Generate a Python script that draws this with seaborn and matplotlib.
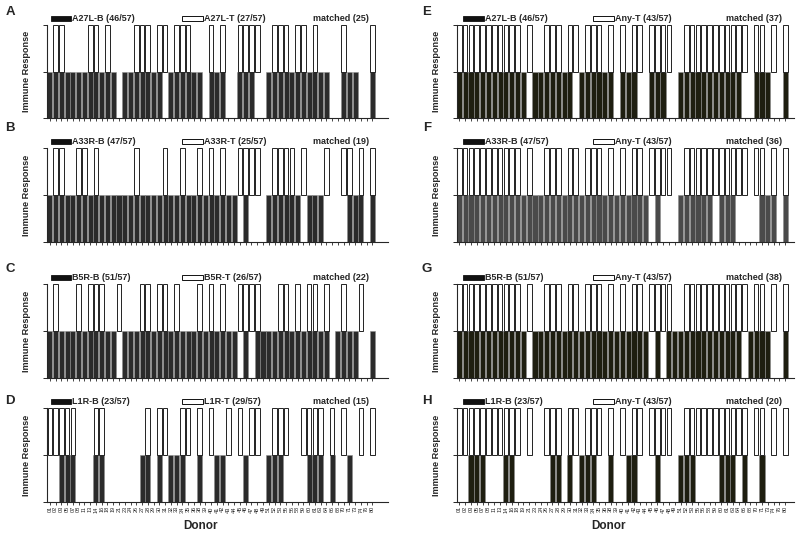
import matplotlib
matplotlib.use("Agg")
import matplotlib.pyplot as plt
from matplotlib.patches import Rectangle
import pandas as pd
import seaborn as sns

# donor ids on the x axis
donors = ["01", "02", "03", "05", "07", "08", "11", "13", "14", "16", "18", "19",
          "21", "23", "24", "26", "27", "28", "29", "30", "31", "32", "33", "34",
          "35", "36", "38", "39", "40", "41", "42", "43", "44", "45", "46", "47",
          "48", "49", "51", "52", "53", "55", "56", "58", "59", "60", "61", "63",
          "64", "66", "68", "70", "71", "73", "74", "76", "80"]

# responders, given as 1-based donor positions
a27l_b = list(range(1, 13)) + list(range(14, 21)) + list(range(22, 28)) + [29, 30, 31, 34, 35, 36] \
    + list(range(39, 50)) + [52, 53, 54, 57]
a27l_t = [2, 3, 8, 9, 11, 16, 17, 18, 20, 21, 23, 24, 25, 29, 31, 34, 35, 36, 37, 40, 41, 42,
          44, 45, 47, 52, 57]
a33r_b = list(range(1, 34)) + [35] + list(range(39, 45)) + [46, 47, 48, 53, 54, 55, 57]
a33r_t = [2, 3, 6, 7, 9, 16, 21, 24, 27, 29, 31, 34, 35, 36, 37, 40, 41, 42, 43, 45, 49, 52,
          53, 55, 57]
b5r_b = list(range(1, 13)) + list(range(14, 34)) + [35] + list(range(37, 50)) + [51, 52, 53, 54, 57]
b5r_t = [2, 6, 8, 9, 10, 13, 17, 18, 20, 21, 23, 27, 29, 31, 34, 35, 36, 37, 41, 42, 44, 46,
         47, 49, 52, 55]
l1r_b = [3, 4, 5, 9, 10, 17, 18, 20, 22, 23, 24, 27, 30, 31, 35, 39, 40, 41, 46, 47, 48, 50, 53]
l1r_t = [1, 2, 3, 4, 5, 9, 10, 18, 20, 21, 24, 25, 27, 29, 32, 34, 36, 37, 40, 41, 42, 45, 46,
         47, 48, 50, 52, 55, 57]
any_t = list(range(1, 12)) + [13, 16, 17, 18, 20, 21, 23, 24, 25, 27, 29, 31, 32, 34, 35, 36, 37] \
    + list(range(40, 51)) + [52, 53, 55, 57]

left_panels = [
    ("A", a27l_b, "A27L-B (46/57)", a27l_t, "A27L-T (27/57)", "matched (25)"),
    ("B", a33r_b, "A33R-B (47/57)", a33r_t, "A33R-T (25/57)", "matched (19)"),
    ("C", b5r_b, "B5R-B (51/57)", b5r_t, "B5R-T (26/57)", "matched (22)"),
    ("D", l1r_b, "L1R-B (23/57)", l1r_t, "L1R-T (29/57)", "matched (15)"),
]
right_panels = [
    ("E", a27l_b, "A27L-B (46/57)", any_t, "Any-T (43/57)", "matched (37)"),
    ("F", a33r_b, "A33R-B (47/57)", any_t, "Any-T (43/57)", "matched (36)"),
    ("G", b5r_b, "B5R-B (51/57)", any_t, "Any-T (43/57)", "matched (38)"),
    ("H", l1r_b, "L1R-B (23/57)", any_t, "Any-T (43/57)", "matched (20)"),
]
left_colors = ["#2b2b2b", "#2b2b2b", "#2b2b2b", "#2b2b2b"]
right_colors = ["#1e1e10", "#4a4a4a", "#1e1e10", "#1e1e10"]

sns.set_style("ticks")
plt.rcParams["font.family"] = ["Liberation Sans", "DejaVu Sans"]

W, H = 799, 540
fig = plt.figure(figsize=(W / 100, H / 100), dpi=100)

rows = [(25, 118), (148, 242), (284, 378), (408, 502)]
cols = [(47, 388, -0.5, 58.7), (457, 794, -0.4, 57.5)]


def draw_panel(ax, letter, b_pos, b_lab, t_pos, t_lab, matched, b_color, bottom_row, lx, ly):
    b_df = pd.DataFrame({"donor": [donors[i - 1] for i in b_pos], "resp": 1})
    t_df = pd.DataFrame({"donor": [donors[i - 1] for i in t_pos], "resp": 1})
    sns.barplot(data=b_df, x="donor", y="resp", order=donors, color=b_color, saturation=1,
                width=0.88, edgecolor="#8c8c8c", linewidth=0.4, errorbar=None, ax=ax)
    sns.barplot(data=t_df, x="donor", y="resp", order=donors, color="white", saturation=1,
                width=0.8, edgecolor="#222222", linewidth=0.7, bottom=1, errorbar=None, ax=ax)
    ax.set_ylim(0, 2.01)
    ax.set_yticks([0, 1, 2])
    ax.set_yticklabels([])
    ax.set_xticks(range(len(donors)))
    sns.despine(ax=ax)
    for s in ax.spines.values():
        s.set_linewidth(0.8)
    ax.tick_params(axis="y", length=3, width=0.7)
    ax.tick_params(axis="x", length=2, width=0.6, pad=1)
    if bottom_row:
        ax.set_xticklabels(donors, rotation=90, fontsize=4)
    else:
        ax.set_xticklabels([])
    ax.set_xlabel("")
    ax.set_ylabel("Immune Response", fontsize=6.6, fontweight="bold", labelpad=5)

    # legend row above the bars
    ax.add_patch(Rectangle((lx[0], 2.09), 3.6, 0.12, facecolor="#111111", edgecolor="#111111",
                           lw=0.6, clip_on=False))
    ax.text(lx[0] + 3.7, 2.15, b_lab, fontsize=6.5, fontweight="bold", va="center")
    ax.add_patch(Rectangle((lx[1], 2.09), 3.6, 0.12, facecolor="white", edgecolor="#111111",
                           lw=0.7, clip_on=False))
    ax.text(lx[1] + 3.8, 2.15, t_lab, fontsize=6.5, fontweight="bold", va="center")
    ax.text(55.4, 2.15, matched, fontsize=6.5, fontweight="bold", va="center", ha="right")
    fig.text(ly[0] / W, 1 - ly[1] / H, letter, fontsize=9.5, fontweight="bold",
             ha="center", va="center")


letter_y = [12, 128, 269, 401]
for c, (panels, colors, lx, letter_x) in enumerate([
        (left_panels, left_colors, (0.15, 22.9), 10),
        (right_panels, right_colors, (0.7, 23.0), 427)]):
    x0, x1, xmin, xmax = cols[c]
    for r, (letter, b_pos, b_lab, t_pos, t_lab, matched) in enumerate(panels):
        top, base = rows[r]
        ax = fig.add_axes([x0 / W, 1 - base / H, (x1 - x0) / W, (base - top) / H])
        draw_panel(ax, letter, b_pos, b_lab, t_pos, t_lab, matched, colors[r], r == 3,
                   lx, (letter_x, letter_y[r]))
        ax.set_xlim(xmin, xmax)

fig.text(200 / W, 1 - 526 / H, "Donor", fontsize=8.5, fontweight="bold", ha="center", va="center")
fig.text(608 / W, 1 - 526 / H, "Donor", fontsize=8.5, fontweight="bold", ha="center", va="center")

fig.savefig("out.png", dpi=100)
